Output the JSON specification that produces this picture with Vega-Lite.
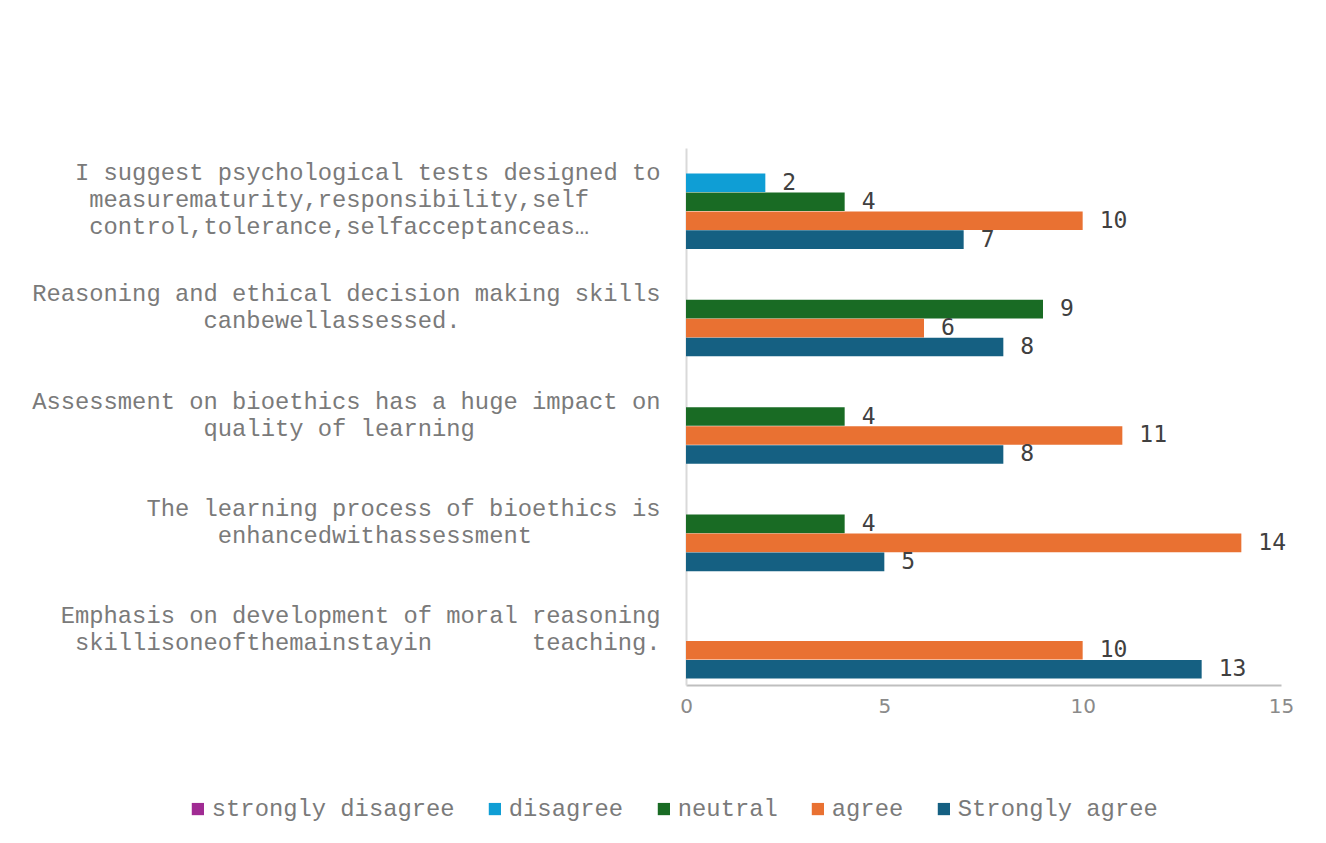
{
  "$schema": "https://vega.github.io/schema/vega-lite/v6.json",
  "width": 595,
  "height": 537,
  "autosize": {"type": "none"},
  "padding": {"left": 686, "top": 148, "right": 45, "bottom": 158},
  "background": "white",
  "config": {"view": {"stroke": null}},
  "data": {
    "values": [
      {"q": "I suggest psychological tests designed to|measurematurity,responsibility,self\u00a0\u00a0\u00a0\u00a0\u00a0\u200b|control,tolerance,selfacceptanceas…\u00a0\u00a0\u00a0\u00a0\u00a0\u200b", "s": "disagree", "v": 2},
      {"q": "I suggest psychological tests designed to|measurematurity,responsibility,self\u00a0\u00a0\u00a0\u00a0\u00a0\u200b|control,tolerance,selfacceptanceas…\u00a0\u00a0\u00a0\u00a0\u00a0\u200b", "s": "neutral", "v": 4},
      {"q": "I suggest psychological tests designed to|measurematurity,responsibility,self\u00a0\u00a0\u00a0\u00a0\u00a0\u200b|control,tolerance,selfacceptanceas…\u00a0\u00a0\u00a0\u00a0\u00a0\u200b", "s": "agree", "v": 10},
      {"q": "I suggest psychological tests designed to|measurematurity,responsibility,self\u00a0\u00a0\u00a0\u00a0\u00a0\u200b|control,tolerance,selfacceptanceas…\u00a0\u00a0\u00a0\u00a0\u00a0\u200b", "s": "Strongly agree", "v": 7},
      {"q": "Reasoning and ethical decision making skills|canbewellassessed.\u00a0\u00a0\u00a0\u00a0\u00a0\u00a0\u00a0\u00a0\u00a0\u00a0\u00a0\u00a0\u00a0\u00a0\u200b", "s": "neutral", "v": 9},
      {"q": "Reasoning and ethical decision making skills|canbewellassessed.\u00a0\u00a0\u00a0\u00a0\u00a0\u00a0\u00a0\u00a0\u00a0\u00a0\u00a0\u00a0\u00a0\u00a0\u200b", "s": "agree", "v": 6},
      {"q": "Reasoning and ethical decision making skills|canbewellassessed.\u00a0\u00a0\u00a0\u00a0\u00a0\u00a0\u00a0\u00a0\u00a0\u00a0\u00a0\u00a0\u00a0\u00a0\u200b", "s": "Strongly agree", "v": 8},
      {"q": "Assessment on bioethics has a huge impact on|quality of learning\u00a0\u00a0\u00a0\u00a0\u00a0\u00a0\u00a0\u00a0\u00a0\u00a0\u00a0\u00a0\u00a0\u200b", "s": "neutral", "v": 4},
      {"q": "Assessment on bioethics has a huge impact on|quality of learning\u00a0\u00a0\u00a0\u00a0\u00a0\u00a0\u00a0\u00a0\u00a0\u00a0\u00a0\u00a0\u00a0\u200b", "s": "agree", "v": 11},
      {"q": "Assessment on bioethics has a huge impact on|quality of learning\u00a0\u00a0\u00a0\u00a0\u00a0\u00a0\u00a0\u00a0\u00a0\u00a0\u00a0\u00a0\u00a0\u200b", "s": "Strongly agree", "v": 8},
      {"q": "The learning process of bioethics is|enhancedwithassessment\u00a0\u00a0\u00a0\u00a0\u00a0\u00a0\u00a0\u00a0\u00a0\u200b", "s": "neutral", "v": 4},
      {"q": "The learning process of bioethics is|enhancedwithassessment\u00a0\u00a0\u00a0\u00a0\u00a0\u00a0\u00a0\u00a0\u00a0\u200b", "s": "agree", "v": 14},
      {"q": "The learning process of bioethics is|enhancedwithassessment\u00a0\u00a0\u00a0\u00a0\u00a0\u00a0\u00a0\u00a0\u00a0\u200b", "s": "Strongly agree", "v": 5},
      {"q": "Emphasis on development of moral reasoning|skillisoneofthemainstayin\u00a0\u00a0\u00a0\u00a0\u00a0\u00a0\u00a0teaching.", "s": "agree", "v": 10},
      {"q": "Emphasis on development of moral reasoning|skillisoneofthemainstayin\u00a0\u00a0\u00a0\u00a0\u00a0\u00a0\u00a0teaching.", "s": "Strongly agree", "v": 13}
    ]
  },
  "encoding": {
    "y": {
      "field": "q",
      "type": "nominal",
      "sort": null,
      "scale": {"paddingInner": 0.12, "paddingOuter": 0.06},
      "axis": {
        "title": null,
        "labelExpr": "split(datum.label, '|')",
        "labelFont": "Liberation Mono",
        "labelFontSize": 23.8,
        "labelColor": "#7a7a7a",
        "labelLineHeight": 27,
        "labelPadding": 26,
        "labelLimit": 0,
        "labelOffset": {"condition": {"test": "length(split(datum.value, '|')) > 2", "value": -29}, "value": -15},
        "ticks": false,
        "domainColor": "#d9d9d9",
        "domainWidth": 2
      }
    },
    "yOffset": {
      "field": "s",
      "type": "nominal",
      "scale": {"domain": ["strongly disagree", "disagree", "neutral", "agree", "Strongly agree"], "paddingInner": 0.02}
    },
    "x": {
      "field": "v",
      "type": "quantitative",
      "scale": {"domain": [0, 15], "nice": false},
      "axis": {
        "title": null,
        "values": [0, 5, 10, 15],
        "grid": false,
        "ticks": false,
        "labelFont": "DejaVu Sans",
        "labelFontSize": 20,
        "labelColor": "#8a8a8a",
        "labelPadding": 11,
        "domainColor": "#bfbfbf",
        "domainWidth": 2,
        "labelFlush": false
      }
    }
  },
  "layer": [
    {
      "mark": {"type": "bar"},
      "encoding": {
        "color": {
          "field": "s",
          "type": "nominal",
          "scale": {
            "domain": ["strongly disagree", "disagree", "neutral", "agree", "Strongly agree"],
            "range": ["#A02B93", "#0F9ED5", "#196B24", "#E97132", "#156082"]
          },
          "legend": {
            "title": null,
            "orient": "none",
            "direction": "horizontal",
            "legendX": -500,
            "legendY": 649,
            "symbolType": "square",
            "symbolSize": 150,
            "symbolStrokeWidth": 0,
            "labelFont": "Liberation Mono",
            "labelFontSize": 23.8,
            "labelColor": "#7a7a7a",
            "labelOffset": 2,
            "columnPadding": 28,
            "labelLimit": 0
          }
        }
      }
    },
    {
      "mark": {"type": "text", "align": "left", "baseline": "middle", "dx": 17, "font": "DejaVu Sans Mono", "fontSize": 23, "color": "#404040"},
      "encoding": {"text": {"field": "v", "type": "quantitative"}}
    }
  ]
}
